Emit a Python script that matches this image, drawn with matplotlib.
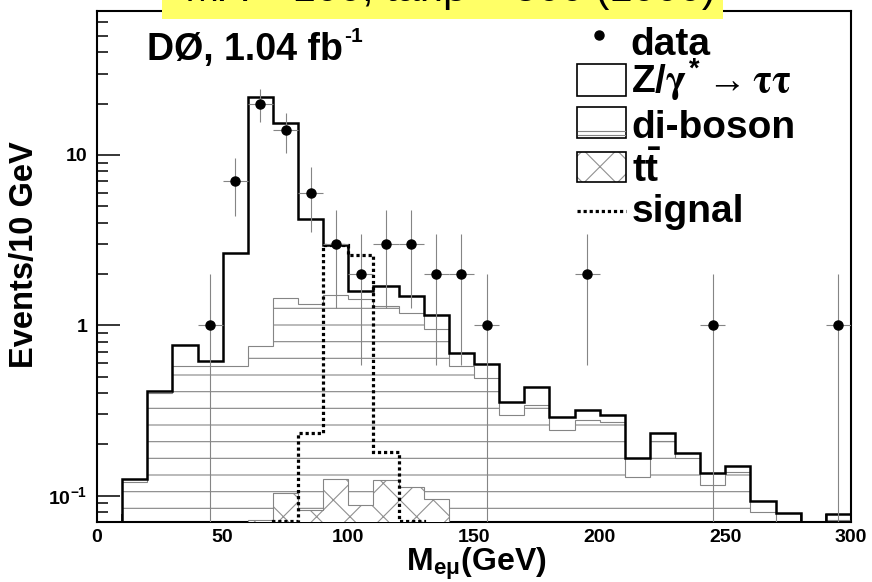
import numpy as np
import matplotlib
matplotlib.use("Agg")
import matplotlib.pyplot as plt
from matplotlib.patches import Rectangle
from matplotlib.lines import Line2D
from matplotlib.ticker import LogLocator, FixedLocator, FixedFormatter, MultipleLocator, NullFormatter

plt.rcParams["font.family"] = "Liberation Sans"
plt.rcParams["font.weight"] = "bold"
plt.rcParams["mathtext.fontset"] = "custom"
plt.rcParams["mathtext.rm"] = "Liberation Sans:bold"
plt.rcParams["mathtext.bf"] = "Liberation Sans:bold"
plt.rcParams["mathtext.it"] = "STIXGeneral"
plt.rcParams["hatch.linewidth"] = 0.8

# 10 GeV bins from 0 to 300 GeV
bin_edges = list(range(0, 310, 10))

# stacked expectation: Z/gamma*->tautau + di-boson + ttbar
total = [0, 0.126, 0.414, 0.77, 0.62, 2.65, 21.8, 15.3, 4.18, 2.95,
         1.6, 1.7, 1.48, 1.145, 0.687, 0.593, 0.354, 0.434, 0.288, 0.32,
         0.298, 0.166, 0.234, 0.179, 0.135, 0.15, 0.093, 0.079, 0, 0.0775]
# di-boson + ttbar
diboson = [0, 0.12, 0.40, 0.58, 0.58, 0.58, 0.755, 1.45, 1.34, 1.5,
           1.42, 1.29, 1.18, 0.95, 0.58, 0.49, 0.298, 0.34, 0.243, 0.278,
           0.27, 0.128, 0.21, 0.166, 0.116, 0.138, 0.08, 0, 0, 0.072]
# ttbar
ttbar = [0, 0, 0, 0, 0, 0, 0.072, 0.104, 0.082, 0.125,
         0.0885, 0.124, 0.112, 0.096, 0, 0, 0, 0, 0, 0,
         0, 0, 0, 0, 0, 0, 0, 0, 0, 0]
# signal
signal = [0, 0, 0, 0, 0, 0, 0, 0.0705, 0.233, 2.95,
          2.6, 0.18, 0.0705, 0, 0, 0, 0, 0, 0, 0,
          0, 0, 0, 0, 0, 0, 0, 0, 0, 0]
# observed events per bin
data = [0, 0, 0, 0, 1, 7, 20, 14, 6, 3,
        2, 3, 3, 2, 2, 1, 0, 0, 0, 2,
        0, 0, 0, 0, 1, 0, 0, 0, 0, 1]

W, H = 872, 582
def fx(px):
    return px / W
def fy(py):
    return 1 - py / H

fig = plt.figure(figsize=(8.72, 5.82), dpi=100)
ax = fig.add_axes([fx(97), fy(522), fx(851) - fx(97), fy(11) - fy(522)])
ax.set_yscale("log")

edges = np.array(bin_edges)
centers = 0.5 * (edges[:-1] + edges[1:])
gray = "#858585"

# stack, drawn ROOT-style from the bottom each time
ax.stairs(total, edges, baseline=1e-3, fill=True, facecolor="white", lw=0, zorder=1)
ax.stairs(diboson, edges, baseline=1e-3, fill=True, facecolor="white",
          edgecolor=gray, hatch="-", lw=0, zorder=2)
ax.stairs(diboson, edges, baseline=1e-3, color=gray, lw=0.8, zorder=3)
ax.stairs(ttbar, edges, baseline=1e-3, fill=True, facecolor="white",
          edgecolor="#909090", hatch="x", lw=0, zorder=4)
ax.stairs(ttbar, edges, baseline=1e-3, color=gray, lw=0.8, zorder=5)
ax.stairs(total, edges, baseline=1e-3, color="black", lw=1.8, zorder=6)

# signal
ax.stairs(signal, edges, baseline=None, color="black", lw=2.3,
          linestyle=(0, (1, 0.9)), zorder=7)

# data
d = np.array(data, dtype=float)
m = d > 0
ax.errorbar(centers[m], d[m], yerr=np.sqrt(d[m]), xerr=5, fmt="o", color="black",
            ecolor=gray, elinewidth=0.8, capsize=0, markersize=6.5, zorder=8)

ax.set_xlim(0, 300)
ax.set_ylim(0.07, 70)

ax.xaxis.set_major_locator(MultipleLocator(50))
ax.xaxis.set_minor_locator(MultipleLocator(10))
ax.yaxis.set_major_locator(FixedLocator([0.1, 1, 10]))
ax.yaxis.set_major_formatter(FixedFormatter([r"10$^{\mathrm{-1}}$", "1", "10"]))
ax.yaxis.set_minor_locator(LogLocator(subs=np.arange(2, 10)))
ax.yaxis.set_minor_formatter(NullFormatter())
ax.tick_params(axis="x", which="major", direction="in", length=11, width=1.1,
               labelsize=14, pad=5, top=False)
ax.tick_params(axis="x", which="minor", direction="in", length=6, width=1.1, top=False)
ax.tick_params(axis="y", which="major", direction="in", length=16.5, width=1.1,
               labelsize=14, pad=7, right=False)
ax.tick_params(axis="y", which="minor", direction="in", length=8, width=1.1, right=False)
for lab in ax.get_xticklabels() + ax.get_yticklabels():
    lab.set_fontweight("bold")
for s in ax.spines.values():
    s.set_linewidth(1.5)

# axis titles
fig.text(fx(25), fy(255), "Events/10 GeV", rotation=90, ha="center", va="center",
         fontsize=23.5, fontweight="bold")
fig.text(fx(476), fy(570), r"M$_{\mathrm{e\mu}}$(GeV)", ha="center", va="baseline",
         fontsize=23, fontweight="bold")

# experiment label, superscript with a plain hyphen like the original
lumi = fig.text(fx(147), fy(60), "DØ, 1.04 fb", ha="left", va="baseline",
                fontsize=27, fontweight="bold")
fig.canvas.draw()
bb = lumi.get_window_extent()
fig.text(bb.x1 / W + 0.001, fy(42), "-1", ha="left", va="baseline",
         fontsize=15, fontweight="bold")

# legend
fs = 28
fig.add_artist(Line2D([fx(599)], [fy(35)], marker="o", color="black", markersize=6.5))
fig.text(fx(630), fy(55), "data", fontsize=fs, va="baseline")
fig.add_artist(Rectangle((fx(577), fy(96)), fx(626) - fx(577), fy(64) - fy(96),
                         transform=fig.transFigure, facecolor="white",
                         edgecolor="black", lw=1.2))
fig.text(fx(631), fy(93), r"Z/$\gamma^{\mathrm{*}}$$\rightarrow$$\tau\tau$",
         fontsize=fs, va="baseline")
fig.add_artist(Rectangle((fx(577), fy(138)), fx(626) - fx(577), fy(107) - fy(138),
                         transform=fig.transFigure, facecolor="white",
                         edgecolor="black", lw=1.2))
for yy in (131, 135):
    fig.add_artist(Line2D([fx(578), fx(625)], [fy(yy), fy(yy)], color=gray, lw=0.8))
fig.text(fx(631), fy(138), "di-boson", fontsize=fs, va="baseline")
fig.add_artist(Rectangle((fx(577), fy(182)), fx(626) - fx(577), fy(152) - fy(182),
                         transform=fig.transFigure, facecolor="white",
                         edgecolor="#909090", hatch="x", lw=0))
fig.add_artist(Rectangle((fx(577), fy(182)), fx(626) - fx(577), fy(152) - fy(182),
                         transform=fig.transFigure, facecolor="none",
                         edgecolor="black", lw=1.2))
fig.text(fx(632), fy(182), r"t$\bar{\mathrm{t}}$", fontsize=fs, va="baseline")
fig.add_artist(Line2D([fx(577), fx(626)], [fy(211), fy(211)], color="black", lw=2.3,
                      linestyle=(0, (1, 0.9))))
fig.text(fx(632), fy(222), "signal", fontsize=fs, va="baseline")

# yellow banner at the top (its text is almost entirely cut off by the page edge)
fig.add_artist(Rectangle((fx(162), fy(19)), fx(723) - fx(162), fy(0) - fy(19),
                         transform=fig.transFigure, facecolor="#ffff66",
                         edgecolor="none", zorder=10))
fig.text(fx(450), fy(1), "MA = 100, tanβ = 500 (1000)", ha="center",
         va="baseline", fontsize=30, fontweight="normal", zorder=11)

fig.savefig("out.png", dpi=100)
